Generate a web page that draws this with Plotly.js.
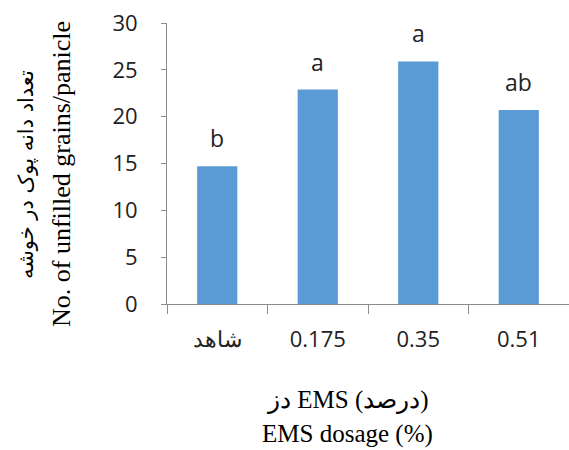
<!DOCTYPE html>
<html>
<head>
<meta charset="utf-8">
<script src="https://cdn.plot.ly/plotly-3.0.1.min.js"></script>
<style>html,body{margin:0;padding:0;background:#fff;}#chart{width:569px;height:450px;}</style>
</head>
<body>
<div id="chart"></div>
<script>
const categories = ["شاهد", "0.175", "0.35", "0.51"];
const values = [14.7, 22.9, 25.9, 20.7];
const letters = ["b", "a", "a", "ab"];
const yTicks = [0, 5, 10, 15, 20, 25, 30];

const W = 569, H = 450;
const L = 167, R = 0, T = 23, B = 146;
const pw = W - L - R, ph = H - T - B;
const px = x => (x - L) / pw;
const py = y => (H - B - y) / ph;

const tickFont = {family: "Open Sans, sans-serif", size: 22, color: "#222"};
const serif = "Liberation Serif, Times New Roman, serif";

const annotations = letters.map((t, i) => ({
  x: i, y: values[i], xref: "x", yref: "y",
  text: t, showarrow: false, yanchor: "bottom", yshift: 10,
  font: {family: "Open Sans, sans-serif", size: 23, color: "#222"}
}));

annotations.push(
  {xref: "paper", yref: "paper", x: px(26), y: py(175), text: "تعداد دانه پوک در خوشه",
   textangle: -90, showarrow: false, xanchor: "center", yanchor: "middle",
   font: {family: "DejaVu Sans, sans-serif", size: 21, color: "#000"}},
  {xref: "paper", yref: "paper", x: px(62), y: py(174), text: "No. of unfilled grains/panicle",
   textangle: -90, showarrow: false, xanchor: "center", yanchor: "middle",
   font: {family: serif, size: 26, color: "#000"}},
  {xref: "paper", yref: "paper", x: px(347), y: py(400), text: "دز EMS (درصد)",
   showarrow: false, xanchor: "center", yanchor: "middle",
   font: {family: serif, size: 25, color: "#000"}},
  {xref: "paper", yref: "paper", x: px(347), y: py(434), text: "EMS dosage (%)",
   showarrow: false, xanchor: "center", yanchor: "middle",
   font: {family: serif, size: 25, color: "#000"}}
);

const data = [{
  type: "bar", x: categories, y: values,
  marker: {color: "#5B9BD5", line: {width: 0}},
  hoverinfo: "none"
}];

const layout = {
  width: W, height: H,
  margin: {l: L, r: R, t: T, b: B, pad: 0},
  paper_bgcolor: "#fff", plot_bgcolor: "#fff",
  showlegend: false,
  bargap: 0.6,
  xaxis: {
    type: "category", tickfont: tickFont,
    showline: true, linecolor: "#8c8c8c", linewidth: 1,
    ticks: "outside", tickson: "boundaries", ticklen: 9, tickcolor: "#8c8c8c",
    ticklabelstandoff: 16,
    showgrid: false, zeroline: false, fixedrange: true
  },
  yaxis: {
    range: [0, 30], tickvals: yTicks, tickfont: tickFont,
    showline: true, linecolor: "#8c8c8c", linewidth: 1,
    ticks: "outside", ticklen: 5, tickcolor: "#8c8c8c",
    ticklabelstandoff: 19,
    showgrid: false, zeroline: false, fixedrange: true
  },
  annotations: annotations
};

Plotly.newPlot("chart", data, layout, {staticPlot: true, displayModeBar: false});
</script>
</body>
</html>
